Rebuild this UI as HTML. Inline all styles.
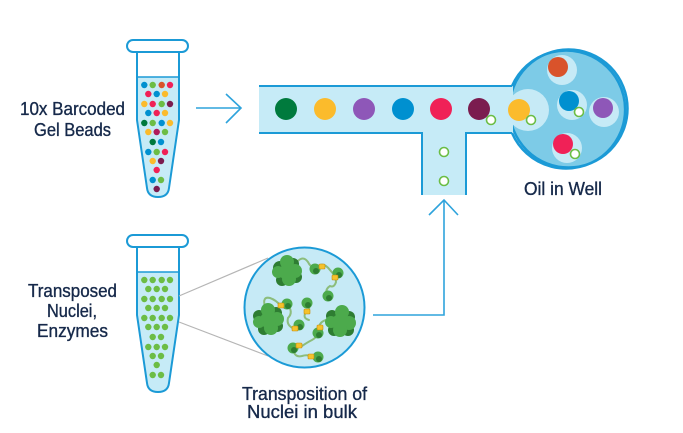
<!DOCTYPE html>
<html><head><meta charset="utf-8"><style>
html,body{margin:0;padding:0;background:#fff;}
svg{display:block;}
text{font-family:"Liberation Sans",sans-serif;fill:#16294a;stroke:#16294a;stroke-width:0.35px;font-size:18px;}
</style></head><body>
<svg width="683" height="433" viewBox="0 0 683 433" xmlns="http://www.w3.org/2000/svg">
<defs>
<clipPath id="c2"><circle cx="304.5" cy="307.5" r="59.5"/></clipPath>
</defs>
<rect width="683" height="433" fill="#fff"/>

<!-- Tube 1 -->
<g>
<path d="M137,77 V120 L147,188 Q148,197 158,197 Q168,197 169,188 L179,120 V77 Z" fill="#c6ebf7"/>
<path d="M137,52 V120 L147,188 Q148,197 158,197 Q168,197 169,188 L179,120 V52" fill="none" stroke="#1b9ad6" stroke-width="2"/>
<line x1="137" y1="77" x2="179" y2="77" stroke="#1b9ad6" stroke-width="1.6"/>
<rect x="127" y="40" width="61" height="12" rx="6" fill="#fff" stroke="#1b9ad6" stroke-width="2"/>
<g>
<circle cx="144.3" cy="85" r="3.2" fill="#0090d0"/><circle cx="152.7" cy="85" r="3.2" fill="#6cbd45"/><circle cx="161.7" cy="85" r="3.2" fill="#d9532b"/><circle cx="170" cy="85" r="3.2" fill="#f02157"/>
<circle cx="148.3" cy="94" r="3.2" fill="#f02157"/><circle cx="156.7" cy="94" r="3.2" fill="#0090d0"/><circle cx="165" cy="94" r="3.2" fill="#fbbb2c"/>
<circle cx="144.3" cy="104" r="3.2" fill="#fbbb2c"/><circle cx="152.7" cy="104" r="3.2" fill="#f02157"/><circle cx="161.7" cy="104" r="3.2" fill="#6cbd45"/><circle cx="170" cy="104" r="3.2" fill="#7b1c4f"/>
<circle cx="148.3" cy="113" r="3.2" fill="#0090d0"/><circle cx="156.7" cy="113" r="3.2" fill="#f02157"/><circle cx="165" cy="113" r="3.2" fill="#fbbb2c"/>
<circle cx="144.3" cy="123" r="3.2" fill="#007a3d"/><circle cx="152.7" cy="123" r="3.2" fill="#6cbd45"/><circle cx="161.7" cy="123" r="3.2" fill="#0090d0"/><circle cx="170" cy="123" r="3.2" fill="#fbbb2c"/>
<circle cx="148.3" cy="132" r="3.2" fill="#fbbb2c"/><circle cx="156.7" cy="132" r="3.2" fill="#b01c5a"/><circle cx="165" cy="132" r="3.2" fill="#6cbd45"/>
<circle cx="152.7" cy="142" r="3.2" fill="#007a3d"/><circle cx="161" cy="142" r="3.2" fill="#0090d0"/>
<circle cx="148.3" cy="152" r="3.2" fill="#0090d0"/><circle cx="156.7" cy="152" r="3.2" fill="#6cbd45"/><circle cx="165" cy="152" r="3.2" fill="#f02157"/>
<circle cx="152.7" cy="161" r="3.2" fill="#fbbb2c"/><circle cx="161" cy="161" r="3.2" fill="#7b1c4f"/>
<circle cx="156.7" cy="170" r="3.2" fill="#f02157"/>
<circle cx="152.7" cy="180" r="3.2" fill="#0090d0"/><circle cx="161" cy="180" r="3.2" fill="#6cbd45"/>
<circle cx="156.7" cy="189" r="3.2" fill="#7b1c4f"/>
</g>
</g>

<!-- Tube 2 -->
<g transform="translate(0,195)">
<path d="M137,77 V120 L147,188 Q148,197 158,197 Q168,197 169,188 L179,120 V77 Z" fill="#c6ebf7"/>
<path d="M137,52 V120 L147,188 Q148,197 158,197 Q168,197 169,188 L179,120 V52" fill="none" stroke="#1b9ad6" stroke-width="2"/>
<line x1="137" y1="77" x2="179" y2="77" stroke="#1b9ad6" stroke-width="1.6"/>
<rect x="127" y="40" width="61" height="12" rx="6" fill="#fff" stroke="#1b9ad6" stroke-width="2"/>
<g fill="#6cbd45">
<circle cx="144.3" cy="85" r="3.2"/><circle cx="152.7" cy="85" r="3.2"/><circle cx="161.7" cy="85" r="3.2"/><circle cx="170" cy="85" r="3.2"/>
<circle cx="148.3" cy="94" r="3.2"/><circle cx="156.7" cy="94" r="3.2"/><circle cx="165" cy="94" r="3.2"/>
<circle cx="144.3" cy="104" r="3.2"/><circle cx="152.7" cy="104" r="3.2"/><circle cx="161.7" cy="104" r="3.2"/><circle cx="170" cy="104" r="3.2"/>
<circle cx="148.3" cy="113" r="3.2"/><circle cx="156.7" cy="113" r="3.2"/><circle cx="165" cy="113" r="3.2"/>
<circle cx="144.3" cy="123" r="3.2"/><circle cx="152.7" cy="123" r="3.2"/><circle cx="161.7" cy="123" r="3.2"/><circle cx="170" cy="123" r="3.2"/>
<circle cx="148.3" cy="132" r="3.2"/><circle cx="156.7" cy="132" r="3.2"/><circle cx="165" cy="132" r="3.2"/>
<circle cx="152.7" cy="142" r="3.2"/><circle cx="161" cy="142" r="3.2"/>
<circle cx="148.3" cy="152" r="3.2"/><circle cx="156.7" cy="152" r="3.2"/><circle cx="165" cy="152" r="3.2"/>
<circle cx="152.7" cy="161" r="3.2"/><circle cx="161" cy="161" r="3.2"/>
<circle cx="156.7" cy="170" r="3.2"/>
<circle cx="152.7" cy="180" r="3.2"/><circle cx="161" cy="180" r="3.2"/>
</g>
</g>

<!-- Labels left -->
<text x="20" y="115" textLength="105" lengthAdjust="spacingAndGlyphs">10x Barcoded</text>
<text x="34" y="136" textLength="77" lengthAdjust="spacingAndGlyphs">Gel Beads</text>
<text x="28" y="297" textLength="89" lengthAdjust="spacingAndGlyphs">Transposed</text>
<text x="47" y="317" textLength="50" lengthAdjust="spacingAndGlyphs">Nuclei,</text>
<text x="37" y="337" textLength="71" lengthAdjust="spacingAndGlyphs">Enzymes</text>

<!-- Arrow 1 -->
<g stroke="#2ea3dc" stroke-width="1.6" fill="none">
<line x1="196" y1="108" x2="240" y2="108"/>
<polyline points="226,94 241,108 226,123"/>
</g>

<!-- Well -->
<circle cx="568.5" cy="108.5" r="59" fill="#7dcbe7" stroke="#1b9ad6" stroke-width="2.5"/>

<!-- Channel -->
<path d="M259,86 H513 V133 H466 V195 H422 V133 H259 Z" fill="#c6ebf7"/>
<g stroke="#1b9ad6" stroke-width="2" fill="none">
<polyline points="259,86 512,86"/>
<polyline points="259,133 422,133 422,195"/>
<polyline points="466,195 466,133 512,133"/>
</g>
<!-- halos in well -->
<g fill="#c6eaf6">
<circle cx="528" cy="110" r="21"/>
<circle cx="562" cy="70" r="15"/>
<circle cx="572" cy="105" r="15"/>
<circle cx="604" cy="112" r="15"/>
<circle cx="567" cy="148" r="15"/>
</g>
<path d="M512,86 A59,59 0 1 1 512,133" fill="none" stroke="#1b9ad6" stroke-width="2.5"/>

<!-- beads in channel -->
<circle cx="286" cy="109" r="11" fill="#007a3d"/>
<circle cx="325" cy="109" r="11" fill="#fbbb2c"/>
<circle cx="364" cy="109" r="11" fill="#8e57b8"/>
<circle cx="403" cy="109" r="11" fill="#0090d0"/>
<circle cx="441" cy="109" r="11" fill="#f02157"/>
<circle cx="479" cy="109" r="11" fill="#7b1c4f"/>
<circle cx="519" cy="110" r="11" fill="#fbbb2c"/>
<circle cx="558" cy="67" r="10" fill="#d9532b"/>
<circle cx="569" cy="101" r="10" fill="#0090d0"/>
<circle cx="603" cy="108" r="10" fill="#8e57b8"/>
<circle cx="563" cy="144" r="10" fill="#f02157"/>
<g fill="#fff" stroke="#6cbd45" stroke-width="1.6">
<circle cx="491" cy="120" r="4.5"/>
<circle cx="531" cy="120" r="4.5"/>
<circle cx="579" cy="112" r="4.5"/>
<circle cx="575" cy="154" r="4.5"/>
<circle cx="444" cy="152" r="4.5"/>
<circle cx="444" cy="181" r="4.5"/>
</g>

<text x="524" y="195" textLength="78" lengthAdjust="spacingAndGlyphs">Oil in Well</text>

<!-- Arrow 2 -->
<g stroke="#2ea3dc" stroke-width="1.6" fill="none">
<polyline points="373,315 444,315 444,201"/>
<polyline points="429,215 444,200 458,215"/>
</g>

<!-- gray lines -->
<g stroke="#b5b5b5" stroke-width="1.2">
<line x1="179" y1="296" x2="268" y2="258"/>
<line x1="179" y1="322" x2="268" y2="356"/>
</g>

<!-- Transposition circle -->
<circle cx="304.5" cy="307.5" r="60" fill="#c6eaf6" stroke="#1b9ad6" stroke-width="2"/>
<g clip-path="url(#c2)">
<g fill="none" stroke="#86b96f" stroke-width="2" stroke-linecap="round" opacity="0.9">
<path d="M297,262 Q303,255 308,262 Q312,270 318,266 Q324,262 330,270 Q336,276 336,282 Q334,288 330,286 Q324,290 328,296"/>
<path d="M265,307 Q262,296 270,298 Q276,300 281,306 Q284,308 287,304"/>
<path d="M287,304 Q294,312 288,318 Q286,326 295,329 Q298,330 299,325"/>
<path d="M307,303 Q312,308 306,312 Q302,318 309,320"/>
<path d="M318,333 Q318,322 326,320 Q334,318 338,322 Q336,326 342,322"/>
<path d="M293,348 Q298,344 302,346 Q308,342 312,340 Q316,338 318,333"/>
<path d="M293,348 Q294,358 302,356 Q308,354 311,357 Q315,360 318,357"/>
</g>
<g>
<g transform="translate(287,272)">
<circle cx="-7" cy="-4" r="7" fill="#2e7d32"/><circle cx="6" cy="-8" r="6" fill="#2e7d32"/><circle cx="9" cy="5" r="6" fill="#2e7d32"/><circle cx="-5" cy="8" r="6" fill="#2e7d32"/>
<circle cx="0" cy="-10" r="7" fill="#4caa4c"/><circle cx="-9" cy="0" r="6" fill="#4caa4c"/><circle cx="8" cy="-1" r="7" fill="#4caa4c"/><circle cx="2" cy="7" r="7" fill="#4caa4c"/><circle cx="0" cy="0" r="8" fill="#4caa4c"/>
</g>
<g transform="translate(268,320)">
<circle cx="-9" cy="-4" r="6" fill="#2e7d32"/><circle cx="8" cy="-7" r="6" fill="#2e7d32"/><circle cx="9" cy="6" r="6" fill="#2e7d32"/><circle cx="-4" cy="9" r="6" fill="#2e7d32"/>
<circle cx="0" cy="-10" r="7" fill="#4caa4c"/><circle cx="-9" cy="2" r="6" fill="#4caa4c"/><circle cx="9" cy="-1" r="7" fill="#4caa4c"/><circle cx="3" cy="8" r="7" fill="#4caa4c"/><circle cx="0" cy="0" r="8" fill="#4caa4c"/>
</g>
<g transform="translate(340,322)">
<circle cx="-8" cy="-6" r="6" fill="#2e7d32"/><circle cx="9" cy="-5" r="6" fill="#2e7d32"/><circle cx="8" cy="8" r="6" fill="#2e7d32"/><circle cx="-6" cy="8" r="6" fill="#2e7d32"/>
<circle cx="2" cy="-10" r="7" fill="#4caa4c"/><circle cx="-9" cy="0" r="6" fill="#4caa4c"/><circle cx="9" cy="1" r="7" fill="#4caa4c"/><circle cx="0" cy="8" r="7" fill="#4caa4c"/><circle cx="0" cy="0" r="8" fill="#4caa4c"/>
</g>
</g>
<g>
<circle cx="315" cy="269" r="5.5" fill="#4caa4c"/><circle cx="316" cy="271" r="3" fill="#2e7d32"/>
<circle cx="338" cy="273" r="5.5" fill="#4caa4c"/><circle cx="339" cy="275" r="3" fill="#2e7d32"/>
<circle cx="328" cy="296" r="5.5" fill="#4caa4c"/><circle cx="329" cy="298" r="3" fill="#2e7d32"/>
<circle cx="287" cy="304" r="5.5" fill="#4caa4c"/><circle cx="288" cy="306" r="3" fill="#2e7d32"/>
<circle cx="307" cy="303" r="5.5" fill="#4caa4c"/><circle cx="308" cy="305" r="3" fill="#2e7d32"/>
<circle cx="299" cy="325" r="5.5" fill="#4caa4c"/><circle cx="300" cy="327" r="3" fill="#2e7d32"/>
<circle cx="318" cy="333" r="5.5" fill="#4caa4c"/><circle cx="319" cy="335" r="3" fill="#2e7d32"/>
<circle cx="293" cy="348" r="5.5" fill="#4caa4c"/><circle cx="294" cy="350" r="3" fill="#2e7d32"/>
<circle cx="318" cy="357" r="5.5" fill="#4caa4c"/><circle cx="319" cy="359" r="3" fill="#2e7d32"/>
</g>
<g fill="#f5c22b" stroke="#c48a10" stroke-width="0.6">
<rect x="319" y="264" width="6" height="5" rx="1"/>
<rect x="332" y="275" width="6" height="5" rx="1"/>
<rect x="278" y="303" width="6" height="5" rx="1"/>
<rect x="304" y="309" width="6" height="5" rx="1"/>
<rect x="292" y="326" width="6" height="5" rx="1"/>
<rect x="317" y="325" width="6" height="5" rx="1"/>
<rect x="296" y="343" width="6" height="5" rx="1"/>
<rect x="308" y="354" width="6" height="5" rx="1"/>
</g>
</g>

<text x="242" y="400" textLength="125" lengthAdjust="spacingAndGlyphs">Transposition of</text>
<text x="247" y="418" textLength="110" lengthAdjust="spacingAndGlyphs">Nuclei in bulk</text>
</svg>
</body></html>
